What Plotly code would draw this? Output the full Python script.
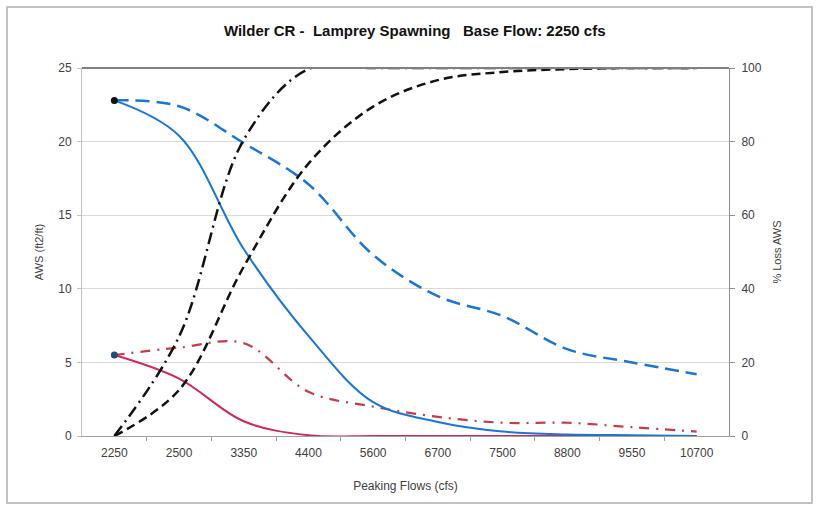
import plotly.graph_objects as go

categories = ["2250", "2500", "3350", "4400", "5600", "6700", "7500", "8800", "9550", "10700"]
aws_solid_blue = [22.8, 20.4, 12.7, 6.8, 2.3, 0.95, 0.3, 0.1, 0.05, 0.0]
aws_dash_blue = [22.8, 22.4, 19.9, 17.1, 12.3, 9.5, 8.15, 5.9, 5.0, 4.2]
aws_solid_red = [5.5, 3.9, 1.0, 0.05, 0.0, 0.0, 0.0, 0.0, 0.0, 0.0]
aws_dashdot_red = [5.5, 6.0, 6.3, 3.0, 2.0, 1.3, 0.9, 0.9, 0.6, 0.3]
loss_dash_black = [0.0, 12.5, 46.0, 74.0, 89.5, 96.7, 98.9, 99.7, 100.0, 100.0]
loss_dashdot_black = [0.0, 27.0, 80.5, 99.7, 100.0, 100.0, 100.0, 100.0, 100.0, 100.0]

x = list(range(len(categories)))

fig = go.Figure()

def add(y, color, dash, width, axis="y"):
    fig.add_trace(go.Scatter(x=x, y=y, mode="lines", yaxis=axis,
                             line=dict(color=color, dash=dash, width=width, shape="spline", smoothing=1.0),
                             showlegend=False, hoverinfo="skip"))

add(loss_dashdot_black, "#111111", "12px,5px,2px,5px", 2.5, "y2")
add(loss_dash_black, "#111111", "9px,5px", 2.5, "y2")
add(aws_dash_blue, "#1C75CF", "14px,7px", 2.5)
add(aws_dashdot_red, "#C23C4A", "10px,7px,2px,7px", 2.2)
add(aws_solid_red, "#CC2A5A", "solid", 2)
add(aws_solid_blue, "#1C75CF", "solid", 2)

# start markers
fig.add_trace(go.Scatter(x=[x[0]], y=[aws_solid_blue[0]], mode="markers",
                         marker=dict(color="#111111", size=7), showlegend=False, hoverinfo="skip"))
fig.add_trace(go.Scatter(x=[x[0]], y=[aws_solid_red[0]], mode="markers",
                         marker=dict(color="#1F4E79", size=7), showlegend=False, hoverinfo="skip"))

fig.update_layout(
    width=818, height=506,
    margin=dict(l=82, r=89, t=68, b=70),
    paper_bgcolor="white", plot_bgcolor="white",
    font=dict(family="Liberation Sans, Arial, sans-serif", size=12, color="#404040"),
    title=dict(text="<b>Wilder CR -  Lamprey Spawning   Base Flow: 2250 cfs</b>",
               x=0.507, xanchor="center", y=0.94, yanchor="middle",
               font=dict(size=15, color="#111111")),
    xaxis=dict(range=[-0.5, len(categories) - 0.5], tickvals=x, ticktext=categories,
               showgrid=False, zeroline=False, showline=True, linecolor="#a0a0a0", linewidth=1,
               ticks="", ticklen=0, ticklabelstandoff=6,
               minor=dict(tickvals=[i + 0.5 for i in range(len(categories) - 1)], ticks="outside",
                          ticklen=4, tickcolor="#a0a0a0", showgrid=False),
               title=dict(text="Peaking Flows (cfs)", standoff=22, font=dict(size=12, color="#404040"))),
    yaxis=dict(range=[0, 25], dtick=5, showgrid=True, gridcolor="#d9d9d9", gridwidth=1,
               zeroline=False, showline=True, linecolor="#c0c0c0", ticks="outside", ticklen=4,
               tickcolor="#c0c0c0", ticklabelstandoff=3,
               title=dict(text="AWS (ft2/ft)", standoff=12, font=dict(size=11, color="#404040"))),
    yaxis2=dict(range=[0, 100], dtick=20, overlaying="y", side="right", showgrid=False,
                zeroline=False, showline=True, linecolor="#909090", ticks="outside", ticklen=5,
                tickcolor="#909090", ticklabelstandoff=4,
                title=dict(text="% Loss AWS", standoff=12, font=dict(size=11, color="#404040"))),
)

# top border line of plot area
fig.add_shape(type="line", xref="paper", yref="paper", x0=0, x1=1, y0=1, y1=1,
              line=dict(color="#808080", width=2))
# outer chart frame
fig.add_shape(type="rect", xref="paper", yref="paper",
              x0=(7 - 82) / 647, x1=(812 - 82) / 647, y0=(436 - 503) / 368, y1=(436 - 7) / 368,
              line=dict(color="#b0b0b0", width=1.5), layer="below")

fig.write_html("out.html", config={"displayModeBar": False},
               post_script="document.body.style.margin='0';")
